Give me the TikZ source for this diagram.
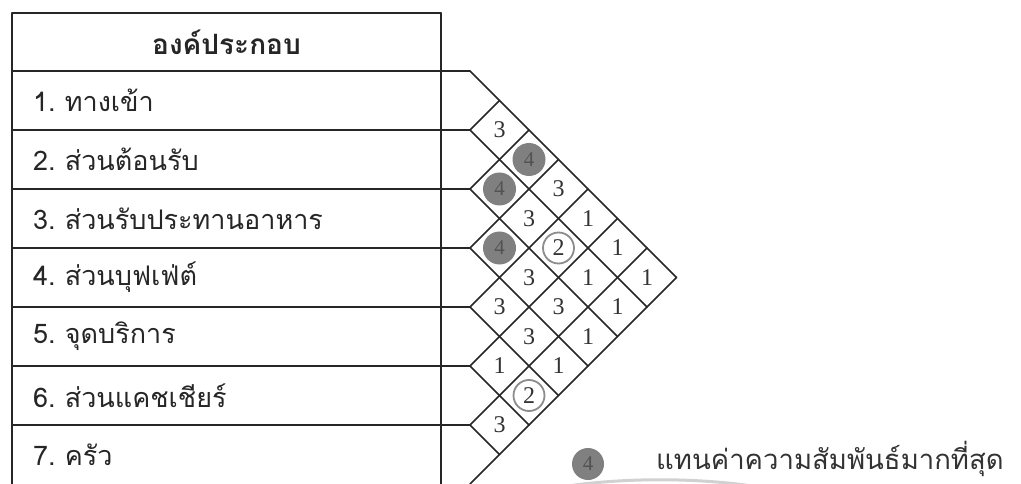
\documentclass[tikz,border=0pt]{standalone}
\usepackage{fontspec}
\setmainfont{Liberation Serif}
\newfontfamily\thaifont[Script=Thai]{Loma}
\begin{document}
\begin{tikzpicture}[x=1pt,y=-1pt,
  gridline/.style={draw=black!85, line width=1.5pt, line cap=round},
  val/.style={font=\fontsize{24}{24}\selectfont, text=black!80, inner sep=0pt},
  strong/.style={circle, fill=black!50, minimum size=33pt, inner sep=0pt, text=black!68, font=\fontsize{21}{21}\selectfont},
  midval/.style={circle, draw=black!45, line width=1.8pt, fill=white, minimum size=31pt, inner sep=0pt, text=black!80, font=\fontsize{24}{24}\selectfont},
  rowlabel/.style={anchor=west, inner sep=0pt, text=black!85, font=\thaifont\fontsize{27}{30}\selectfont},
  legendtext/.style={anchor=west, inner sep=0pt, text=black!80, font=\thaifont\fontsize{27.5}{30}\selectfont}
]
\useasboundingbox (0,0) rectangle (1021,484);
\fill[white] (0,0) rectangle (1021,484);
% table frame
\draw[gridline] (12,13) -- (441,13);
\draw[gridline] (12,13) -- (12,484);
\draw[gridline] (441,13) -- (441,484);
\foreach \k in {0,...,6} \draw[gridline] (12,{71+59*\k}) -- (470,{71+59*\k});
% diagonal lattice
\foreach \k in {0,...,6} \draw[gridline] (470,{71+59*\k}) -- ({470+(7-\k)*29.5},{71+59*\k+(7-\k)*29.5});
\foreach \k in {1,...,7} \draw[gridline] (470,{71+59*\k}) -- ({470+\k*29.5},{71+59*\k-\k*29.5});
% header and rows
\node[font=\thaifont\bfseries\fontsize{28}{32}\selectfont, text=black!85] (hd) at (226.5,42) {องค์ประกอบ};
\node[rowlabel] (r1) at (33,100.5) {1.\ ทางเข้า};
\node[rowlabel] (r2) at (33,159.5) {2.\ ส่วนต้อนรับ};
\node[rowlabel] (r3) at (33,218.5) {3.\ ส่วนรับประทานอาหาร};
\node[rowlabel] (r4) at (33,277.5) {4.\ ส่วนบุฟเฟ่ต์};
\node[rowlabel] (r5) at (33,336.5) {5.\ จุดบริการ};
\node[rowlabel] (r6) at (33,395.5) {6.\ ส่วนแคชเชียร์};
\node[rowlabel] (r7) at (33,454.5) {7.\ ครัว};
% cell values
\foreach \i/\j/\v/\s in {1/2/3/val, 1/3/4/strong, 2/3/4/strong, 1/4/3/val, 2/4/3/val,
  1/5/1/val, 3/4/4/strong, 2/5/2/midval, 1/6/1/val, 3/5/3/val, 2/6/1/val, 1/7/1/val,
  4/5/3/val, 3/6/3/val, 2/7/1/val, 4/6/3/val, 3/7/1/val, 5/6/1/val, 4/7/1/val,
  5/7/2/midval, 6/7/3/val}
  \node[\s] (c\i\j) at ({470+(\j-\i)*29.5},{71+29.5*(\i+\j-1)}) {\v};
% legend
\draw[black!18, line width=3pt] (555,488) .. controls (620,477) and (700,477) .. (765,488);
\node[strong, minimum size=32pt] (lg) at (588,464) {4};
\node[legendtext] (lt) at (656,459) {แทนค่าความสัมพันธ์มากที่สุด};
\end{tikzpicture}
\end{document}
